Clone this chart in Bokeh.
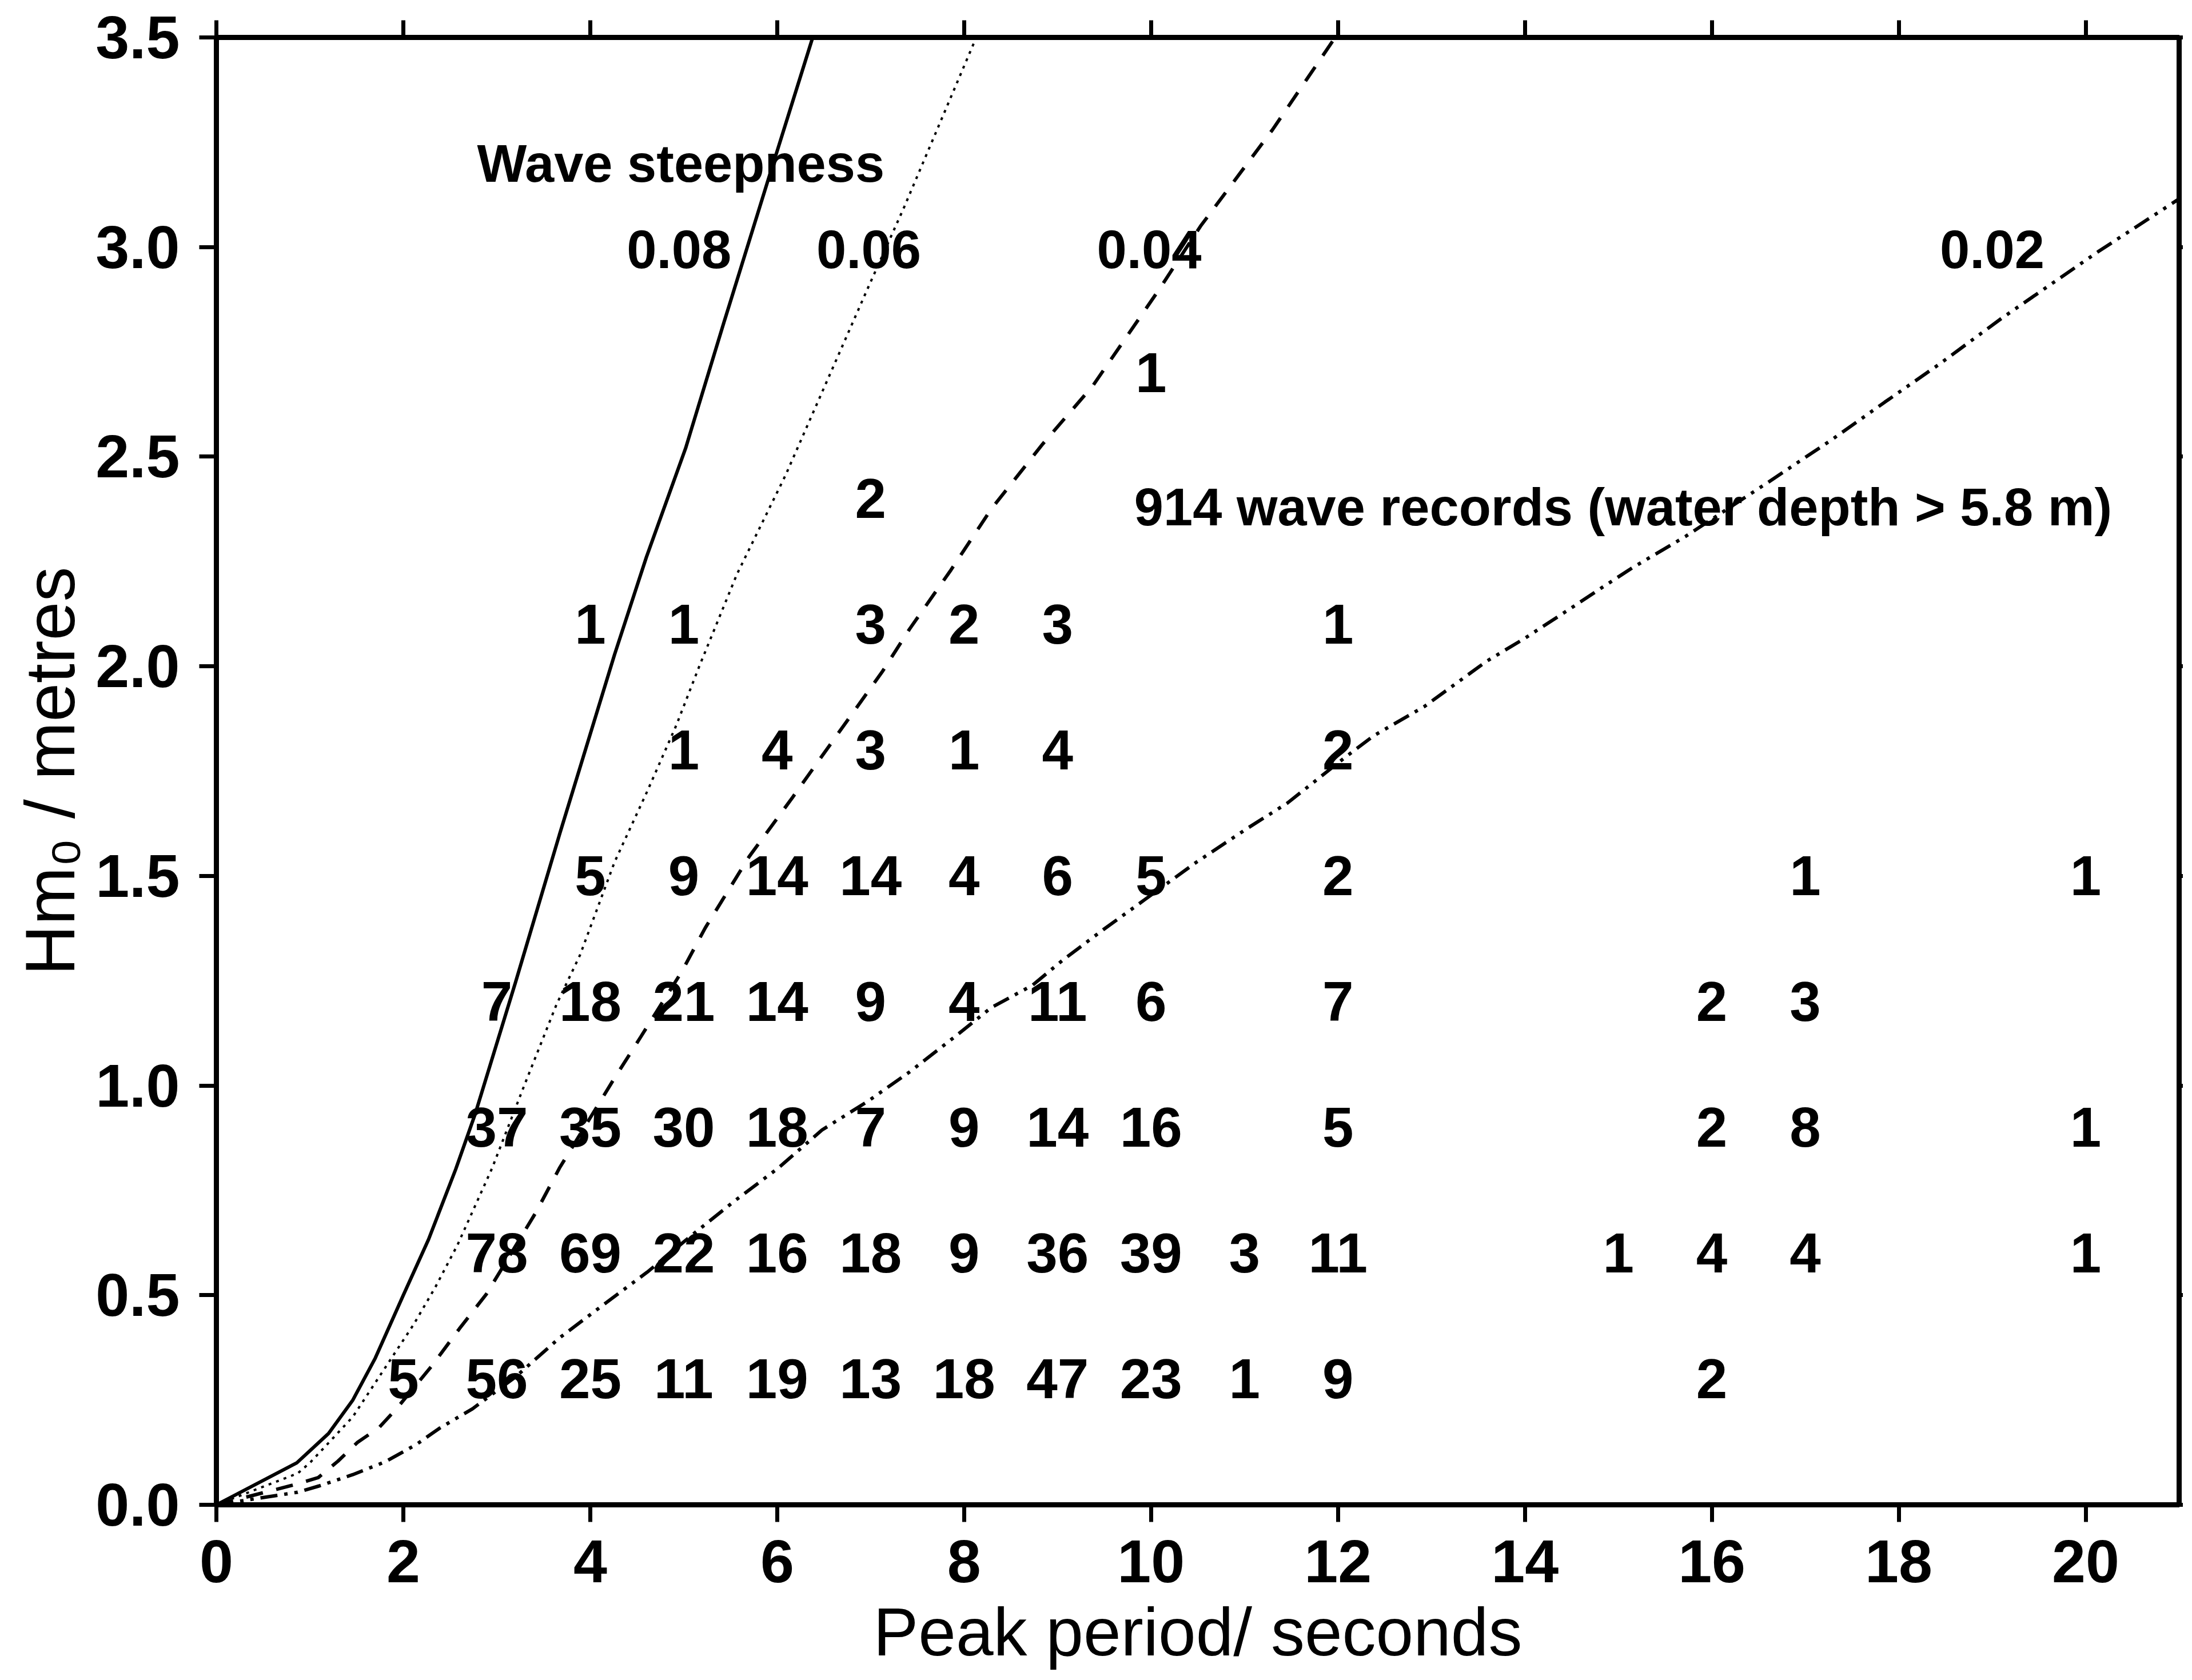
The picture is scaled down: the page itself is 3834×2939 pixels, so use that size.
from bokeh.plotting import figure
from bokeh.models import LinearAxis, FixedTicker, Range1d, PrintfTickFormatter, CustomJSTickFormatter, ColumnDataSource
from bokeh.core.properties import value
from bokeh.embed import file_html
from bokeh.resources import INLINE

# ---- wave steepness curves (peak period T [s], Hm0 [m]) ----
steep_008_T = [0, 0.86, 1.2, 1.46, 1.7, 2.0, 2.27, 2.56, 2.77, 3.2, 3.67, 4.26, 4.6, 5.02, 5.43, 5.90, 6.38]
steep_008_H = [0, 0.10, 0.17, 0.25, 0.35, 0.50, 0.633, 0.80, 0.933, 1.246, 1.598, 2.028, 2.26, 2.52, 2.82, 3.158, 3.5]

steep_006_T = [0, 0.87, 1.0, 1.21, 1.46, 2.11, 2.34, 2.58, 2.95, 3.29, 3.64, 3.89, 4.26, 4.61, 4.92, 5.17, 5.57, 6.09, 6.97, 7.36, 8.13]
steep_006_H = [0, 0.075, 0.10, 0.15, 0.21, 0.43, 0.518, 0.62, 0.803, 0.998, 1.194, 1.311, 1.533, 1.702, 1.859, 2.002, 2.22, 2.456, 2.902, 3.096, 3.5]

steep_004_T = [0, 0.87, 1.09, 1.30, 1.51, 1.74, 1.93, 2.30, 2.60, 2.89, 3.42, 3.67, 4.26, 4.54, 4.98, 5.23, 5.70, 6.17, 6.63, 7.13, 7.42, 7.86, 8.29, 8.84, 9.38, 10.09, 10.53, 11.30, 11.97]
steep_004_H = [0, 0.05, 0.065, 0.104, 0.149, 0.184, 0.23, 0.33, 0.42, 0.503, 0.698, 0.803, 1.018, 1.116, 1.272, 1.376, 1.546, 1.689, 1.833, 1.989, 2.09, 2.23, 2.375, 2.53, 2.67, 2.90, 3.05, 3.28, 3.5]

steep_002_T = [0, 0.87, 1.1, 1.46, 1.81, 2.14, 2.39, 2.74, 3.20, 3.67, 4.14, 4.61, 5.07, 5.54, 6.01, 6.48, 6.98, 7.42, 7.91, 8.29, 8.73, 9.06, 9.49, 9.93, 10.48, 11.02, 11.46, 12.06, 12.38, 12.93, 13.59, 14.0, 14.42, 14.84, 15.15, 15.72, 16.61, 17.28, 17.85, 18.43, 19.10, 19.62, 20.14, 21.0]
steep_002_H = [0, 0.03, 0.045, 0.072, 0.103, 0.144, 0.183, 0.229, 0.305, 0.398, 0.477, 0.555, 0.64, 0.724, 0.803, 0.894, 0.964, 1.033, 1.118, 1.186, 1.239, 1.30, 1.372, 1.443, 1.532, 1.612, 1.674, 1.78, 1.834, 1.905, 2.012, 2.067, 2.128, 2.19, 2.235, 2.31, 2.44, 2.54, 2.63, 2.72, 2.83, 2.91, 2.99, 3.115]

# ---- counts of wave records per (Hm0 row, peak period) ----
row_heights = [0.3, 0.6, 0.9, 1.2, 1.5, 1.8, 2.1, 2.4, 2.7]
row_periods = [
    [2, 3, 4, 5, 6, 7, 8, 9, 10, 11, 12, 16],
    [3, 4, 5, 6, 7, 8, 9, 10, 11, 12, 15, 16, 17, 20],
    [3, 4, 5, 6, 7, 8, 9, 10, 12, 16, 17, 20],
    [3, 4, 5, 6, 7, 8, 9, 10, 12, 16, 17],
    [4, 5, 6, 7, 8, 9, 10, 12, 17, 20],
    [5, 6, 7, 8, 9, 12],
    [4, 5, 7, 8, 9, 12],
    [7],
    [10],
]
row_counts = [
    [5, 56, 25, 11, 19, 13, 18, 47, 23, 1, 9, 2],
    [78, 69, 22, 16, 18, 9, 36, 39, 3, 11, 1, 4, 4, 1],
    [37, 35, 30, 18, 7, 9, 14, 16, 5, 2, 8, 1],
    [7, 18, 21, 14, 9, 4, 11, 6, 7, 2, 3],
    [5, 9, 14, 14, 4, 6, 5, 2, 1, 1],
    [1, 4, 3, 1, 4, 2],
    [1, 1, 3, 2, 3, 1],
    [2],
    [1],
]

steepness_labels = ["0.08", "0.06", "0.04", "0.02"]
x_ticks = [0, 2, 4, 6, 8, 10, 12, 14, 16, 18, 20]
y_ticks = [0.0, 0.5, 1.0, 1.5, 2.0, 2.5, 3.0, 3.5]

FONT = "Liberation Sans"

p = figure(width=3818, height=2923,
           x_range=Range1d(0, 21), y_range=Range1d(0, 3.5),
           output_backend="svg", toolbar_location=None,
           min_border_left=378, min_border_right=7,
           min_border_top=65, min_border_bottom=288)
p.xgrid.visible = False
p.ygrid.visible = False
p.background_fill_color = "white"
p.border_fill_color = "white"
p.outline_line_color = "black"
p.outline_line_width = 9

# steepness curves
p.line(steep_008_T, steep_008_H, line_color="black", line_width=6)
p.line(steep_006_T, steep_006_H, line_color="black", line_width=4, line_dash="5 9")
p.line(steep_004_T, steep_004_H, line_color="black", line_width=6, line_dash="30 24")
p.line(steep_002_T, steep_002_H, line_color="black", line_width=6, line_dash="30 12 6 12 6 12")

# count numbers
cnt_T, cnt_H, cnt_N = [], [], []
for h, ts, ns in zip(row_heights, row_periods, row_counts):
    for t, n in zip(ts, ns):
        cnt_T.append(t)
        cnt_H.append(h)
        cnt_N.append(str(n))
src = ColumnDataSource(dict(x=cnt_T, y=cnt_H, text=cnt_N))
p.text(x="x", y="y", text="text", source=src, text_font=value(FONT),
       text_font_style="bold", text_font_size="98px", text_color="black",
       text_align="center", text_baseline="middle")

# annotations
p.text(x=[2.79], y=[3.20], text=["Wave steepness"], text_font=value(FONT),
       text_font_style="bold", text_font_size="92px", text_color="black",
       text_align="left", text_baseline="middle")
p.text(x=[4.95, 6.98, 9.98, 19.0], y=[2.995] * 4, text=steepness_labels,
       text_font=value(FONT), text_font_style="bold", text_font_size="94px",
       text_color="black", text_align="center", text_baseline="middle")
p.text(x=[9.82], y=[2.38], text=["914 wave records (water depth > 5.8 m)"],
       text_font=value(FONT), text_font_style="bold", text_font_size="92px",
       text_color="black", text_align="left", text_baseline="middle")

# axes
def style_axis(ax, tick_out=30):
    ax.axis_line_color = "black"
    ax.axis_line_width = 9
    ax.major_tick_line_color = "black"
    ax.major_tick_line_width = 7
    ax.major_tick_out = tick_out
    ax.major_tick_in = 0
    ax.minor_tick_line_color = None
    ax.major_label_text_color = "black"
    ax.major_label_text_font = FONT
    ax.major_label_text_font_style = "bold"
    ax.major_label_text_font_size = "106px"
    ax.axis_label_text_color = "black"
    ax.axis_label_text_font = FONT
    ax.axis_label_text_font_style = "normal"
    ax.axis_label_text_font_size = "118px"

xa = p.xaxis[0]
xa.ticker = FixedTicker(ticks=x_ticks)
style_axis(xa)
xa.major_label_standoff = 32
xa.axis_label = "Peak period/ seconds"
xa.axis_label_standoff = 18

ya = p.yaxis[0]
ya.ticker = FixedTicker(ticks=y_ticks)
ya.formatter = PrintfTickFormatter(format="%.1f")
style_axis(ya)
ya.axis_label_text_font_size = "122px"
ya.major_label_standoff = 34
ya.axis_label = "Hm\u2080 / metres"
ya.axis_label_standoff = 8

blank = CustomJSTickFormatter(code="return ''")
top = LinearAxis(ticker=FixedTicker(ticks=x_ticks), formatter=blank)
style_axis(top)
top.major_label_standoff = 0
top.major_label_text_font_size = "1px"
p.add_layout(top, "above")

right = LinearAxis(ticker=FixedTicker(ticks=y_ticks), formatter=blank)
style_axis(right, tick_out=7)
right.major_label_standoff = 0
right.major_label_text_font_size = "1px"
p.add_layout(right, "right")

open("out.html", "w").write(file_html(p, INLINE))
